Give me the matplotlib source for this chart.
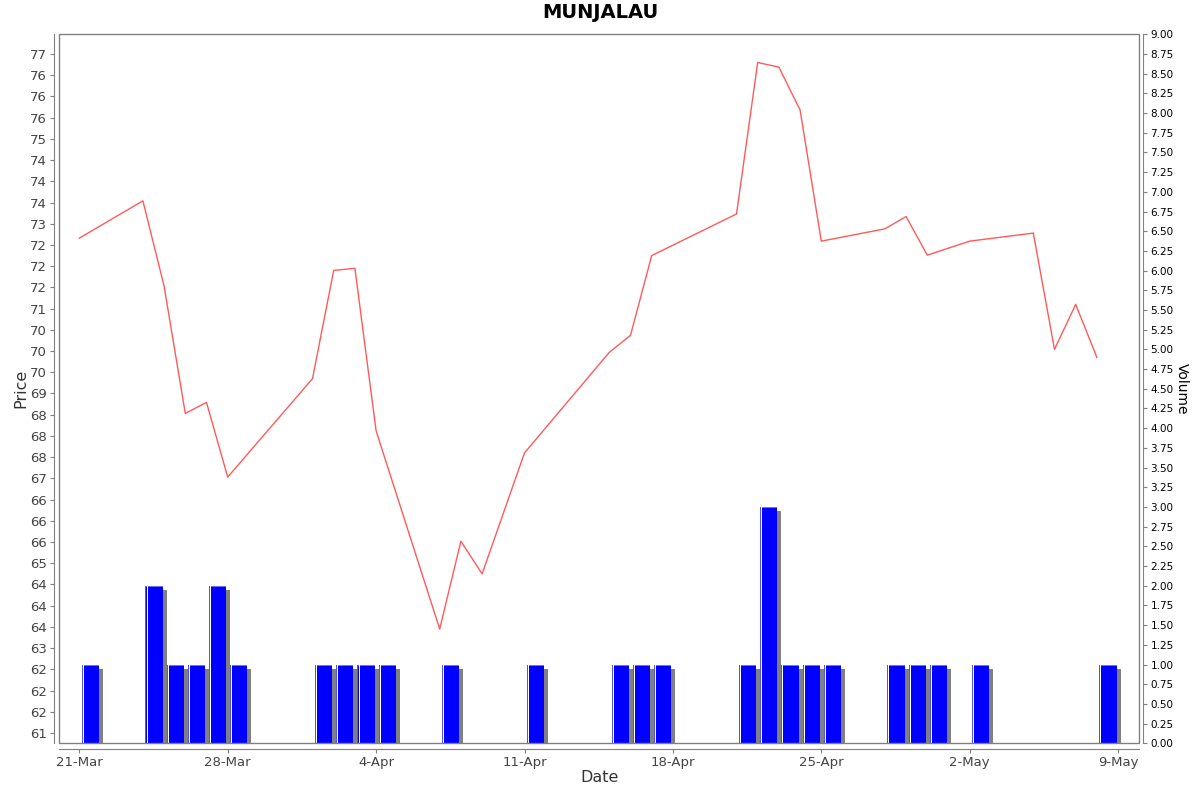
import datetime as dt
import numpy as np
import matplotlib
matplotlib.use("Agg")
import matplotlib.pyplot as plt
import matplotlib.dates as mdates
from matplotlib.patches import Rectangle

# ---- data ----
dates = ["2025-03-21", "2025-03-24", "2025-03-25", "2025-03-26", "2025-03-27", "2025-03-28",
         "2025-04-01", "2025-04-02", "2025-04-03", "2025-04-04", "2025-04-07", "2025-04-08",
         "2025-04-09", "2025-04-11", "2025-04-15", "2025-04-16", "2025-04-17", "2025-04-21",
         "2025-04-22", "2025-04-23", "2025-04-24", "2025-04-25", "2025-04-28", "2025-04-29",
         "2025-04-30", "2025-05-02", "2025-05-05", "2025-05-06", "2025-05-07", "2025-05-08"]
prices = [72.66, 73.54, 71.53, 68.53, 68.79, 67.03,
          69.35, 71.90, 71.95, 68.12, 63.45, 65.52,
          64.75, 67.60, 69.97, 70.37, 72.25, 73.23,
          76.80, 76.69, 75.68, 72.59, 72.88, 73.17,
          72.26, 72.59, 72.78, 70.04, 71.10, 69.85]
volumes = [1, 2, 1, 1, 2, 1,
           1, 1, 1, 1, 1, 0,
           0, 1, 1, 1, 1, 1,
           3, 1, 1, 1, 1, 1,
           1, 1, 0, 0, 0, 1]
xtick_dates = ["2025-03-21", "2025-03-28", "2025-04-04", "2025-04-11",
               "2025-04-18", "2025-04-25", "2025-05-02", "2025-05-09"]
title = "MUNJALAU"

# ---- figure ----
W, H = 1200, 792
fig = plt.figure(figsize=(W / 100, H / 100), dpi=100)
L, R, T, B = 59.3, 1139.3, 34.3, 743.3
axv = fig.add_axes([L / W, 1 - B / H, (R - L) / W, (B - T) / H])
axp = axv.twinx()
axp.yaxis.tick_left()
axp.yaxis.set_label_position("left")
axv.yaxis.tick_right()
axv.yaxis.set_label_position("right")
axp.set_zorder(axv.get_zorder() + 1)
axp.patch.set_visible(False)

x = mdates.date2num([dt.datetime.strptime(d, "%Y-%m-%d") for d in dates])
x0 = mdates.date2num(dt.datetime(2025, 3, 21))
px_per_day = 21.2
xlim = (x0 - 20.0 / px_per_day, x0 + 1060.0 / px_per_day)

# volume bars with shadow
bar_off = 2.4 / px_per_day
bar_w = 17.3 / px_per_day
sh_dx = 4.0 / px_per_day
sh_dy = 4.0 / (709.0 / 9.0)
for xi, v in zip(x, volumes):
    if v <= 0:
        continue
    axv.add_patch(Rectangle((xi + bar_off + sh_dx, 0), bar_w, v - sh_dy,
                            facecolor="#808080", edgecolor="none", zorder=1))
    axv.add_patch(Rectangle((xi + bar_off, 0), bar_w, v,
                            facecolor="#0000ff", edgecolor="none", zorder=2))
    axv.add_patch(Rectangle((xi + bar_off, v - 1.0 / 78.8), bar_w, 1.0 / 78.8,
                            facecolor="#6f6fff", edgecolor="none", zorder=3))
    axv.add_patch(Rectangle((xi + bar_off + 1.2 / px_per_day, 0), 1.0 / px_per_day, v,
                            facecolor="#ffffff", edgecolor="none", zorder=3))
    axv.add_patch(Rectangle((xi + bar_off, 0), 1.2 / px_per_day, v,
                            facecolor="#5050ff", edgecolor="none", zorder=3))

axv.set_ylim(0, 9)
axv.set_yticks(np.arange(0, 9.001, 0.25))
axv.set_yticklabels([f"{t:.2f}" for t in np.arange(0, 9.001, 0.25)])
axv.set_xlim(*xlim)

# price line
axp.plot(x, prices, color="#ff5a5a", lw=1.0, zorder=5)
ppx = 679.0 / 16.0
axp.set_ylim(61 - (B - 733) / ppx, 77 + (54 - T) / ppx)
pt = np.arange(61, 77.001, 0.5)
axp.set_yticks(pt)
axp.set_yticklabels([f"{t:.0f}" for t in pt])
axp.set_xlim(*xlim)

xt = mdates.date2num([dt.datetime.strptime(d, "%Y-%m-%d") for d in xtick_dates])
axv.set_xticks(xt)
axv.set_xticklabels([dt.datetime.strptime(d, "%Y-%m-%d").strftime("%d-%b").lstrip("0")
                     for d in xtick_dates])

gray = "#808080"
txt = "#444444"
for a in (axv, axp):
    for s in a.spines.values():
        s.set_visible(False)
axp.spines["left"].set_visible(True)
axp.spines["left"].set_position(("outward", 4))
axp.spines["left"].set_color(gray)
axv.spines["bottom"].set_visible(True)
axv.spines["bottom"].set_position(("outward", 4))
axv.spines["bottom"].set_color(gray)
axv.spines["right"].set_visible(True)
axv.spines["right"].set_position(("outward", 3))
axv.spines["right"].set_color(gray)

axp.add_patch(Rectangle((0, 0), 1, 1, transform=axp.transAxes, fill=False,
                        edgecolor=gray, lw=1.0, clip_on=False, zorder=10))

axp.tick_params(axis="y", which="both", direction="out", length=3, width=0.8,
                color=gray, labelcolor=txt, labelsize=9.5, pad=2)
axv.tick_params(axis="y", which="both", direction="out", length=3, width=0.8,
                color=gray, labelcolor="black", labelsize=7.5, pad=2)
axv.tick_params(axis="x", which="both", direction="out", length=3, width=0.8,
                color=gray, labelcolor=txt, labelsize=9.5, pad=2)
axp.tick_params(axis="x", which="both", bottom=False, labelbottom=False)

axp.set_ylabel("Price", fontsize=11.5, color="#333333", labelpad=1)
axv.set_ylabel("Volume", fontsize=10, color="black", rotation=-90, labelpad=11)
axv.set_xlabel("Date", fontsize=11.5, color="#333333", labelpad=1)
fig.text(0.5, 1 - 13 / H, title, ha="center", va="center", fontsize=14,
         fontweight="bold", color="black")

fig.savefig("out.png", dpi=100, facecolor="white")
